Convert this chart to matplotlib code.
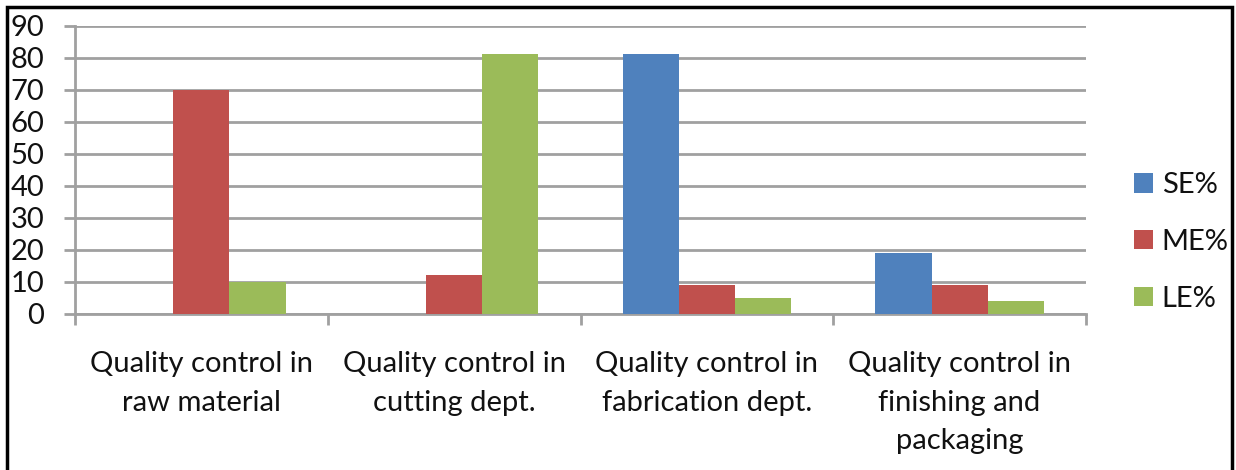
import matplotlib
matplotlib.use("Agg")
import matplotlib.pyplot as plt
from matplotlib.patches import Rectangle
import numpy as np

plt.rcParams['font.family'] = ['Lato', 'DejaVu Sans']

categories = ["Quality control in\nraw material",
              "Quality control in\ncutting dept.",
              "Quality control in\nfabrication dept.",
              "Quality control in\nfinishing and\npackaging"]
series_names = ["SE%", "ME%", "LE%"]
se_values = [0, 0, 81, 19]
me_values = [70, 12, 9, 9]
le_values = [10, 81, 5, 4]
y_ticks = [0, 10, 20, 30, 40, 50, 60, 70, 80, 90]

colors = ["#4F81BD", "#C0504D", "#9BBB59"]
grid_col = "#A0A0A0"
txt_col = "#111111"

fig = plt.figure(figsize=(12.36, 4.70), dpi=100)
ax = fig.add_axes([75 / 1236, 1 - 313.5 / 470, (1086 - 75) / 1236, (313.5 - 25.7) / 470])

x = np.arange(len(categories))
w = 1 / 4.5
for i, vals in enumerate([se_values, me_values, le_values]):
    ax.bar(x + (i - 1) * w, vals, w, color=colors[i], label=series_names[i], zorder=3)

ax.set_xlim(-0.5, len(categories) - 0.5)
ax.set_ylim(0, 90)
ax.set_yticks(y_ticks)
ax.yaxis.grid(True, color=grid_col, lw=2, zorder=0)
for s in ["top", "right"]:
    ax.spines[s].set_visible(False)
for s in ["left", "bottom"]:
    ax.spines[s].set_color(grid_col)
    ax.spines[s].set_linewidth(2)

# category ticks at boundaries, labels centred on groups
ax.set_xticks(np.arange(len(categories) + 1) - 0.5)
ax.set_xticklabels([])
ax.set_xticks(x, minor=True)
ax.set_xticklabels(categories, minor=True, fontsize=21, color=txt_col, linespacing=1.6)
ax.tick_params(axis="x", which="major", length=8, width=2, color=grid_col)
ax.tick_params(axis="x", which="minor", length=0, pad=27)
ax.tick_params(axis="y", length=8, width=2, color=grid_col, pad=14, labelsize=21, labelcolor=txt_col)

fig.legend(loc="center left", bbox_to_anchor=(1134 / 1236, 1 - 242 / 470), frameon=False,
           fontsize=21, borderpad=0, borderaxespad=0, handlelength=0.65, handleheight=0.65,
           handletextpad=0.3, labelspacing=1.05, labelcolor=txt_col)

fig.add_artist(Rectangle((7 / 1236, -0.1), (1232 - 7) / 1236, 1.1 - 7 / 470,
                         transform=fig.transFigure, fill=False, ec="black", lw=2.5))

fig.savefig("out.png", dpi=100)
